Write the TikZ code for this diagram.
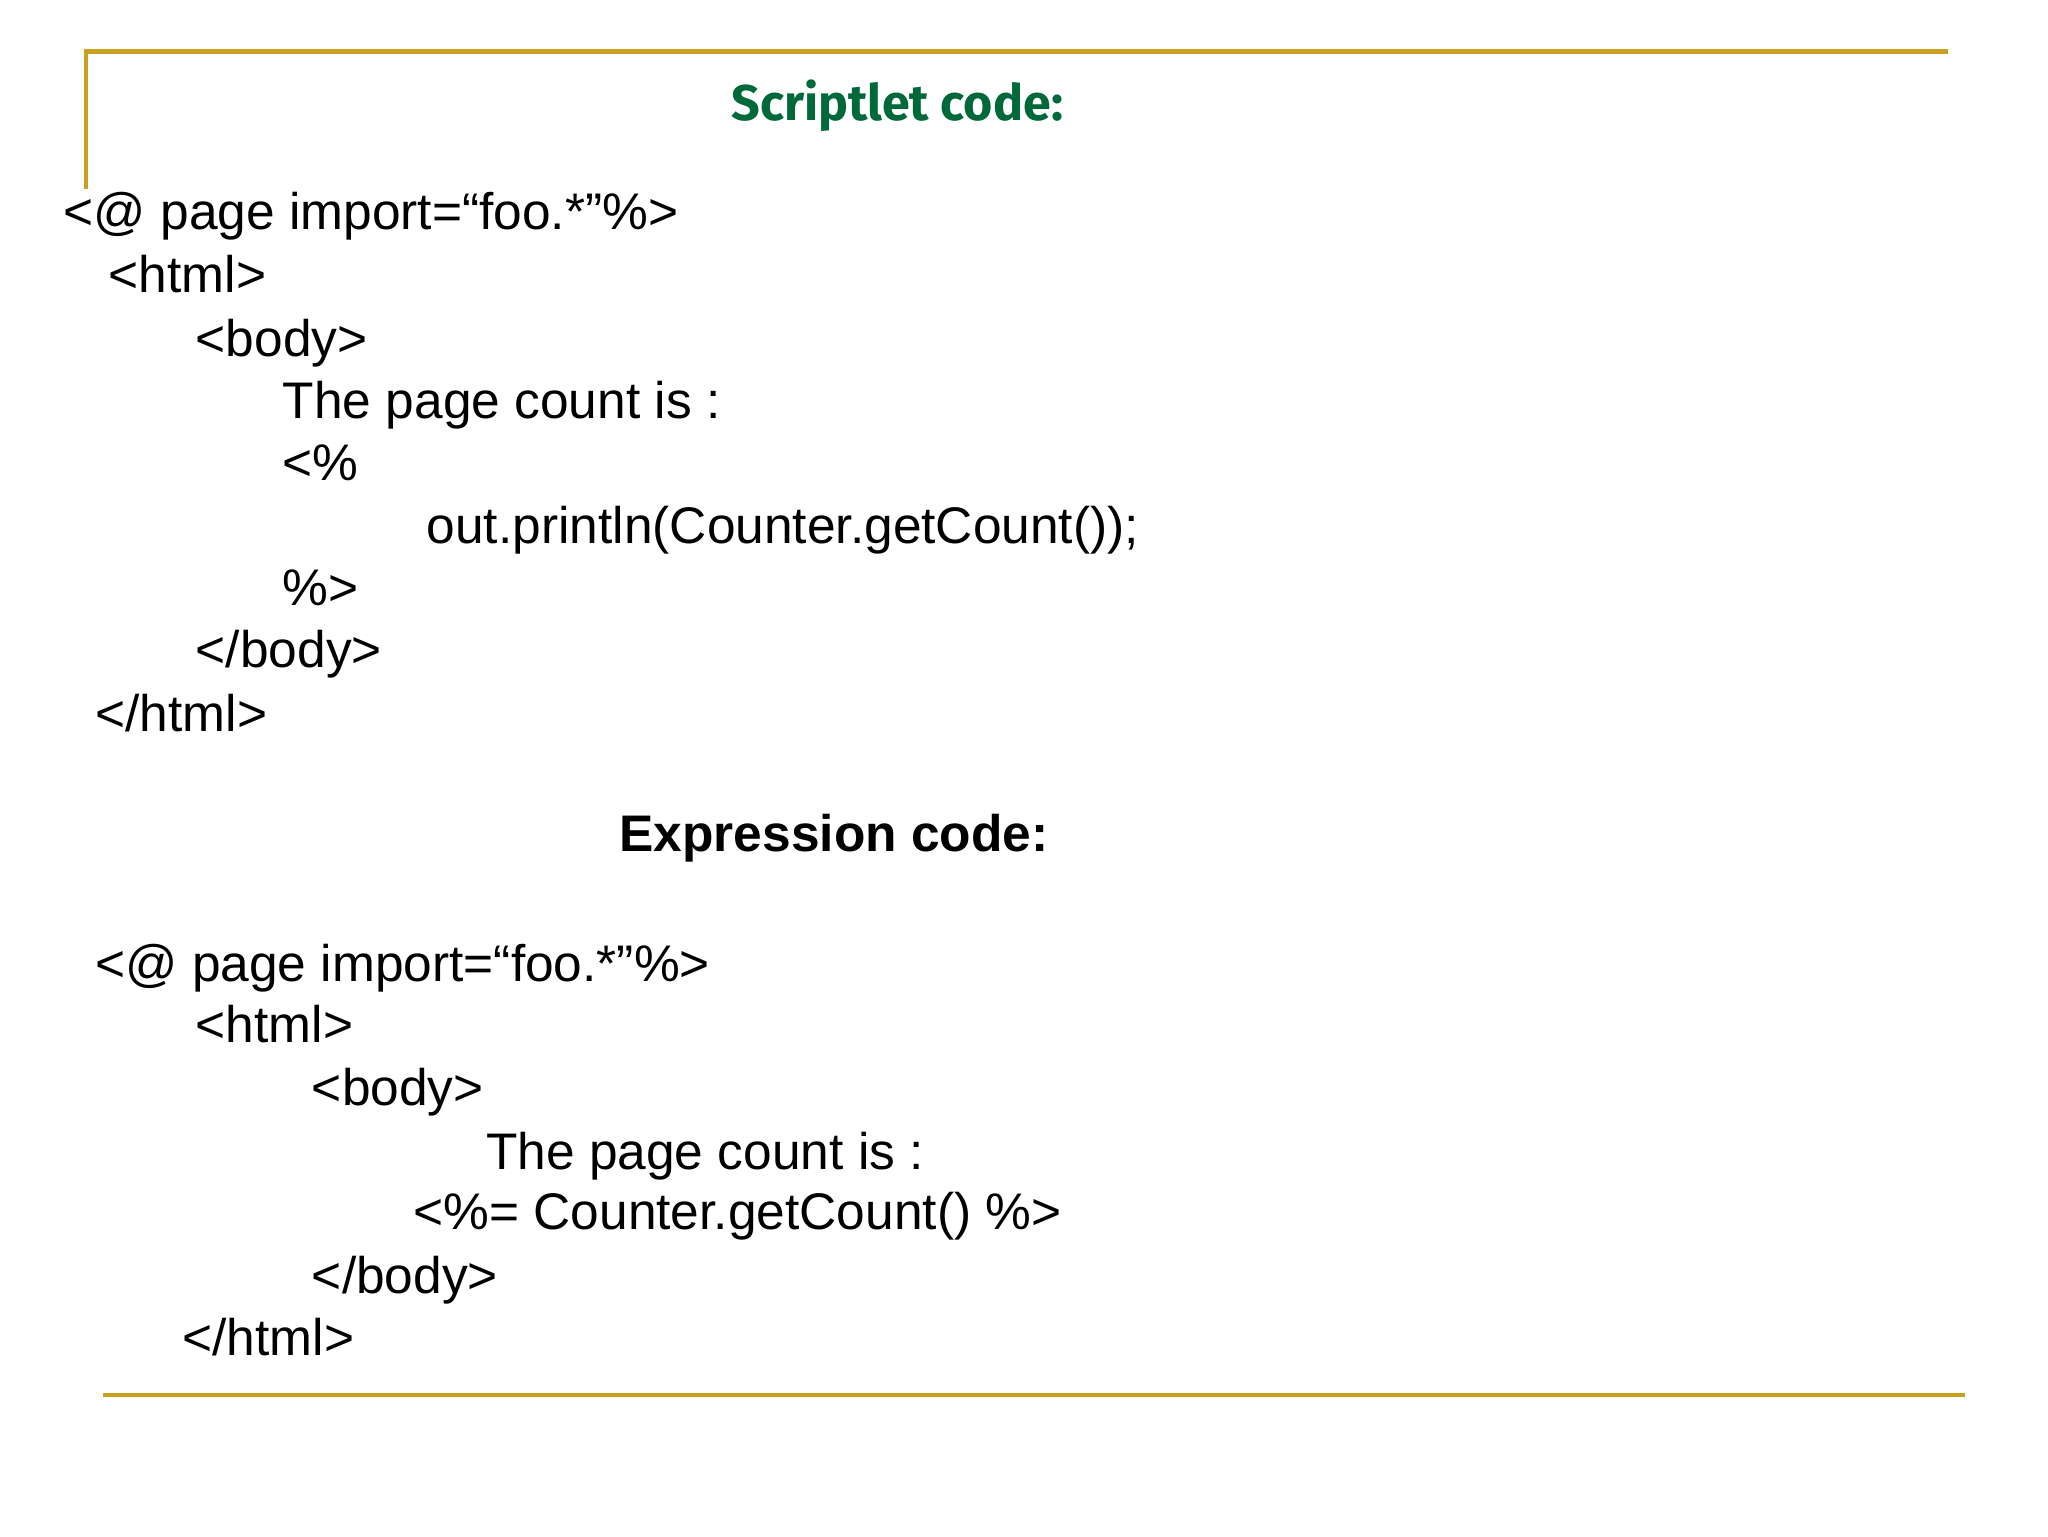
\documentclass[tikz,border=0pt]{standalone}
\usepackage{fontspec}
\setmainfont{Liberation Sans}
\newfontfamily\titlefont{Fira Sans}
\definecolor{gold}{HTML}{C9A020}
\definecolor{tgreen}{HTML}{00693A}
\begin{document}
\begin{tikzpicture}[x=0.5pt,y=-0.5pt,
  code/.style={anchor=base west,inner sep=0pt,font=\fontsize{19.5pt}{23pt}\selectfont},
  rule/.style={draw=gold,line width=1.6pt}]
\useasboundingbox (0,0) rectangle (1552,1164);
\coordinate (tl) at (65,39); \coordinate (tr) at (1476,39); \coordinate (lb) at (65,143);
\draw[rule] (lb) -- (tl) -- (tr);
\coordinate (bl) at (78,1057); \coordinate (br) at (1489,1057);
\draw[rule] (bl) -- (br);
\node[anchor=center,inner sep=0pt,text=tgreen,font=\titlefont\bfseries\fontsize{19pt}{22pt}\selectfont] (t1) at (680,80) {Scriptlet code:};
\node[code] (a1) at (48,174) {<@ page import=“foo.*”\%>};
\node[code] (a2) at (82,222) {<html>};
\node[code] (a3) at (148,270) {<body>};
\node[code] (a4) at (214,317) {The page count is :};
\node[code] (a5) at (214,364) {<\%};
\node[code] (a6) at (323,412) {out.println(Counter.getCount());};
\node[code] (a7) at (214,459) {\%>};
\node[code] (a8) at (148,506) {</body>};
\node[code] (a9) at (72,554) {</html>};
\node[anchor=center,inner sep=0pt,font=\bfseries\fontsize{19.5pt}{23pt}\selectfont] (t2) at (632,635) {Expression code:};
\node[code] (b1) at (72,744) {<@ page import=“foo.*”\%>};
\node[code] (b2) at (148,790) {<html>};
\node[code] (b3) at (236,838) {<body>};
\node[code] (b4) at (368,886) {The page count is :};
\node[code] (b5) at (313,932) {<\%= Counter.getCount() \%>};
\node[code] (b6) at (236,980) {</body>};
\node[code] (b7) at (138,1027) {</html>};
\end{tikzpicture}
\end{document}
